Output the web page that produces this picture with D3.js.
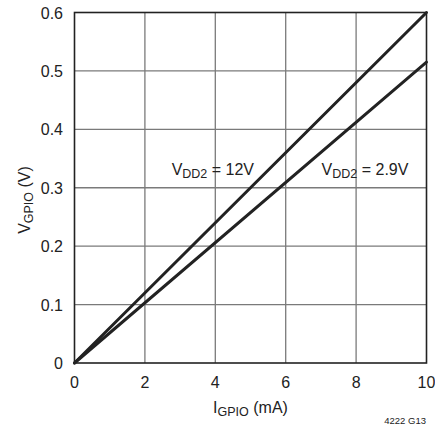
<!DOCTYPE html>
<html><head><meta charset="utf-8">
<script src="https://cdn.jsdelivr.net/npm/d3@7"></script>
<style>body{margin:0;background:#fff}svg{display:block}text{font-family:"Liberation Sans",Arial,sans-serif;fill:#222}</style>
</head><body><svg id="c" width="435" height="432"></svg>
<script>
const xTicks = [0, 2, 4, 6, 8, 10];
const yTicks = [0, 0.1, 0.2, 0.3, 0.4, 0.5, 0.6];
const currentMA = [0, 10];
const vdd12 = [0, 0.6];
const vdd29 = [0, 0.515];
const labels = [
  {main: "V", sub: "DD2", rest: " = 12V", x: 2.76, y: 0.322},
  {main: "V", sub: "DD2", rest: " = 2.9V", x: 7.02, y: 0.322}
];

const svg = d3.select("#c");
const L = 74.5, R = 426.5, T = 12.5, B = 363;
const x = d3.scaleLinear().domain([0, 10]).range([L, R]);
const y = d3.scaleLinear().domain([0, 0.6]).range([B, T]);

const g = svg.append("g");
g.selectAll(".vx").data(xTicks.slice(1, -1)).join("line")
  .attr("x1", d => x(d)).attr("x2", d => x(d)).attr("y1", T).attr("y2", B)
  .attr("stroke", "#7a7a7a").attr("stroke-width", 1.3);
g.selectAll(".hy").data(yTicks.slice(1, -1)).join("line")
  .attr("y1", d => y(d)).attr("y2", d => y(d)).attr("x1", L).attr("x2", R)
  .attr("stroke", "#7a7a7a").attr("stroke-width", 1.3);
g.append("rect").attr("x", L).attr("y", T).attr("width", R - L).attr("height", B - T)
  .attr("fill", "none").attr("stroke", "#222").attr("stroke-width", 1.6);

const line = d3.line().x(d => x(d[0])).y(d => y(d[1]));
[vdd12, vdd29].forEach(s => {
  g.append("path").datum(currentMA.map((c, i) => [c, s[i]]))
    .attr("d", line).attr("fill", "none").attr("stroke", "#222").attr("stroke-width", 3)
    .attr("stroke-linecap", "round");
});

// tick labels
svg.selectAll(".xt").data(xTicks).join("text")
  .attr("x", d => x(d)).attr("y", 388).attr("text-anchor", "middle")
  .attr("font-size", 16).text(d => d);
svg.selectAll(".yt").data(yTicks).join("text")
  .attr("x", 63).attr("y", d => y(d) + 6).attr("text-anchor", "end")
  .attr("font-size", 16).text(d => d === 0 ? "0" : d.toFixed(1));

function subText(sel, main, sub, rest) {
  sel.append("tspan").text(main);
  sel.append("tspan").attr("font-size", 12.5).attr("dy", 3).text(sub);
  sel.append("tspan").attr("dy", -3).text(rest);
}

// curve labels
labels.forEach(l => {
  const t = svg.append("text").attr("x", x(l.x)).attr("y", y(l.y))
    .attr("text-anchor", "start").attr("font-size", 16);
  subText(t, l.main, l.sub, l.rest);
});

// axis titles
const xt = svg.append("text").attr("x", (L + R) / 2).attr("y", 413)
  .attr("text-anchor", "middle").attr("font-size", 16);
subText(xt, "I", "GPIO", " (mA)");

const yt = svg.append("text").attr("transform", "translate(30,200) rotate(-90)")
  .attr("text-anchor", "middle").attr("font-size", 16);
subText(yt, "V", "GPIO", " (V)");

svg.append("text").attr("x", 426).attr("y", 424).attr("text-anchor", "end")
  .attr("font-size", 9.5).text("4222 G13");
</script></body></html>
